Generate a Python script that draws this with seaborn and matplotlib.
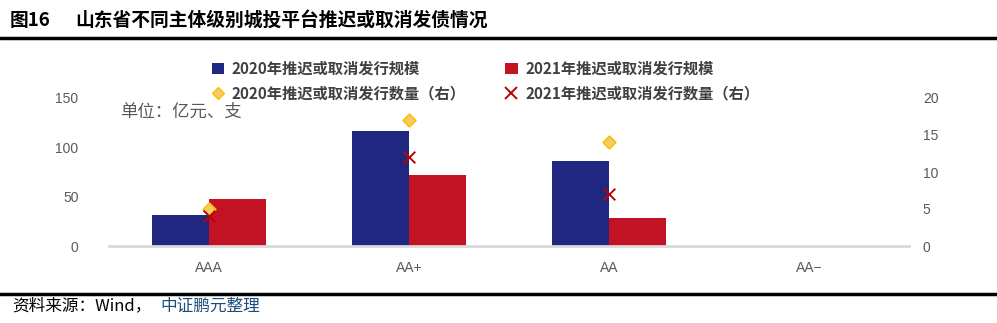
import matplotlib
matplotlib.use("Agg")
import matplotlib.pyplot as plt
import seaborn as sns
import numpy as np
import pandas as pd
from matplotlib.lines import Line2D
from matplotlib.patches import Patch

categories = ["AAA", "AA+", "AA", "AA-"]
tick_labels = ["AAA", "AA+", "AA", "AA−"]
scale_2020 = [31, 117, 86, 0]
scale_2021 = [48, 72, 28, 0]
count_2020 = [5, 17, 14, np.nan]
count_2021 = [4, 12, 7, np.nan]
series_names = ["2020年推迟或取消发行规模", "2021年推迟或取消发行规模",
                "2020年推迟或取消发行数量（右）", "2021年推迟或取消发行数量（右）"]

sns.set_theme(style="white")
plt.rcParams['font.family'] = ['Noto Sans CJK SC', 'DejaVu Sans']

C_BLUE = "#1F2780"
C_RED = "#C31224"
C_GOLD = "#FFC000"
C_GOLD_FILL = "#F3CB6B"
C_X = "#C00000"

df = pd.DataFrame({
    "cat": categories * 2,
    "val": scale_2020 + scale_2021,
    "series": [series_names[0]] * 4 + [series_names[1]] * 4,
})

fig = plt.figure(figsize=(9.97, 3.23), dpi=100)
ax = fig.add_axes([109 / 997, 1 - 246 / 323, 800 / 997, 148 / 323])
sns.barplot(data=df, x="cat", y="val", hue="series", order=categories,
            palette=[C_BLUE, C_RED], width=0.57, gap=0, ax=ax, legend=False,
            saturation=1, linewidth=0)
ax.set_xlim(-0.5, 3.5)
ax.set_ylim(0, 150)
ax.set_yticks([0, 50, 100, 150])
ax.set_xticks(range(len(categories)))
ax.set_xticklabels(tick_labels, family=['Liberation Sans', 'DejaVu Sans'])
ax.set_xlabel("")
ax.set_ylabel("")
for s in ["top", "left", "right"]:
    ax.spines[s].set_visible(False)
ax.spines["bottom"].set_color("#D9D9D9")
ax.spines["bottom"].set_linewidth(2)
ax.tick_params(axis="both", length=0, labelsize=10, colors="#595959")
ax.tick_params(axis="x", pad=11)
ax.tick_params(axis="y", pad=22)
for t in ax.get_yticklabels():
    t.set_family(['Liberation Sans', 'DejaVu Sans'])

ax2 = ax.twinx()
xpos = np.arange(len(categories))
ax2.scatter(xpos, count_2020, marker="D", s=42, facecolor=C_GOLD_FILL,
            edgecolor=C_GOLD, linewidth=1.2, zorder=5)
ax2.scatter(xpos, count_2021, marker="x", s=70, color=C_X, linewidth=1.4, zorder=6)
ax2.set_ylim(0, 20)
ax2.set_yticks([0, 5, 10, 15, 20])
for s in ["top", "left", "right", "bottom"]:
    ax2.spines[s].set_visible(False)
ax2.tick_params(axis="y", length=0, labelsize=10, colors="#595959", pad=10)
for t in ax2.get_yticklabels():
    t.set_family(['Liberation Sans', 'DejaVu Sans'])
ax2.grid(False)
ax.grid(False)

handles = [
    Patch(facecolor=C_BLUE, edgecolor="none"),
    Line2D([], [], marker="D", linestyle="none", markersize=6,
           markerfacecolor=C_GOLD_FILL, markeredgecolor=C_GOLD),
    Patch(facecolor=C_RED, edgecolor="none"),
    Line2D([], [], marker="x", linestyle="none", markersize=8,
           color=C_X, markeredgewidth=1.4),
]
labels = [series_names[0], series_names[2], series_names[1], series_names[3]]
leg = fig.legend(handles, labels, ncol=2, loc="upper left",
                 bbox_to_anchor=(198 / 997, 1 - 47 / 323), frameon=False,
                 prop={"size": 11, "weight": "bold"}, handlelength=0.8,
                 handleheight=0.8, handletextpad=0.5, columnspacing=2.6,
                 labelspacing=0.55)
for t in leg.get_texts():
    t.set_color("#404040")

fig.text(120 / 997, 1 - 112 / 323, "单位：亿元、支", fontsize=12.5,
         color="#595959", va="center", ha="left")

fig.text(10 / 997, 1 - 20 / 323, "图16", fontsize=13.5, weight="bold",
         color="#000000", va="center", ha="left")
fig.text(75 / 997, 1 - 20 / 323, "山东省不同主体级别城投平台推迟或取消发债情况",
         fontsize=13.5, weight="bold", color="#000000", va="center", ha="left")
fig.add_artist(Line2D([0, 1], [1 - 38 / 323] * 2, color="black", linewidth=2.5,
                      transform=fig.transFigure))
fig.add_artist(Line2D([0, 1], [1 - 294 / 323] * 2, color="black", linewidth=2.5,
                      transform=fig.transFigure))
fig.text(12 / 997, 1 - 306 / 323, "资料来源：Wind，", fontsize=12,
         color="#000000", va="center", ha="left")
fig.text(160 / 997, 1 - 306 / 323, "中证鹏元整理", fontsize=12,
         color="#1F4E79", va="center", ha="left")

fig.savefig("out.png", dpi=100)
